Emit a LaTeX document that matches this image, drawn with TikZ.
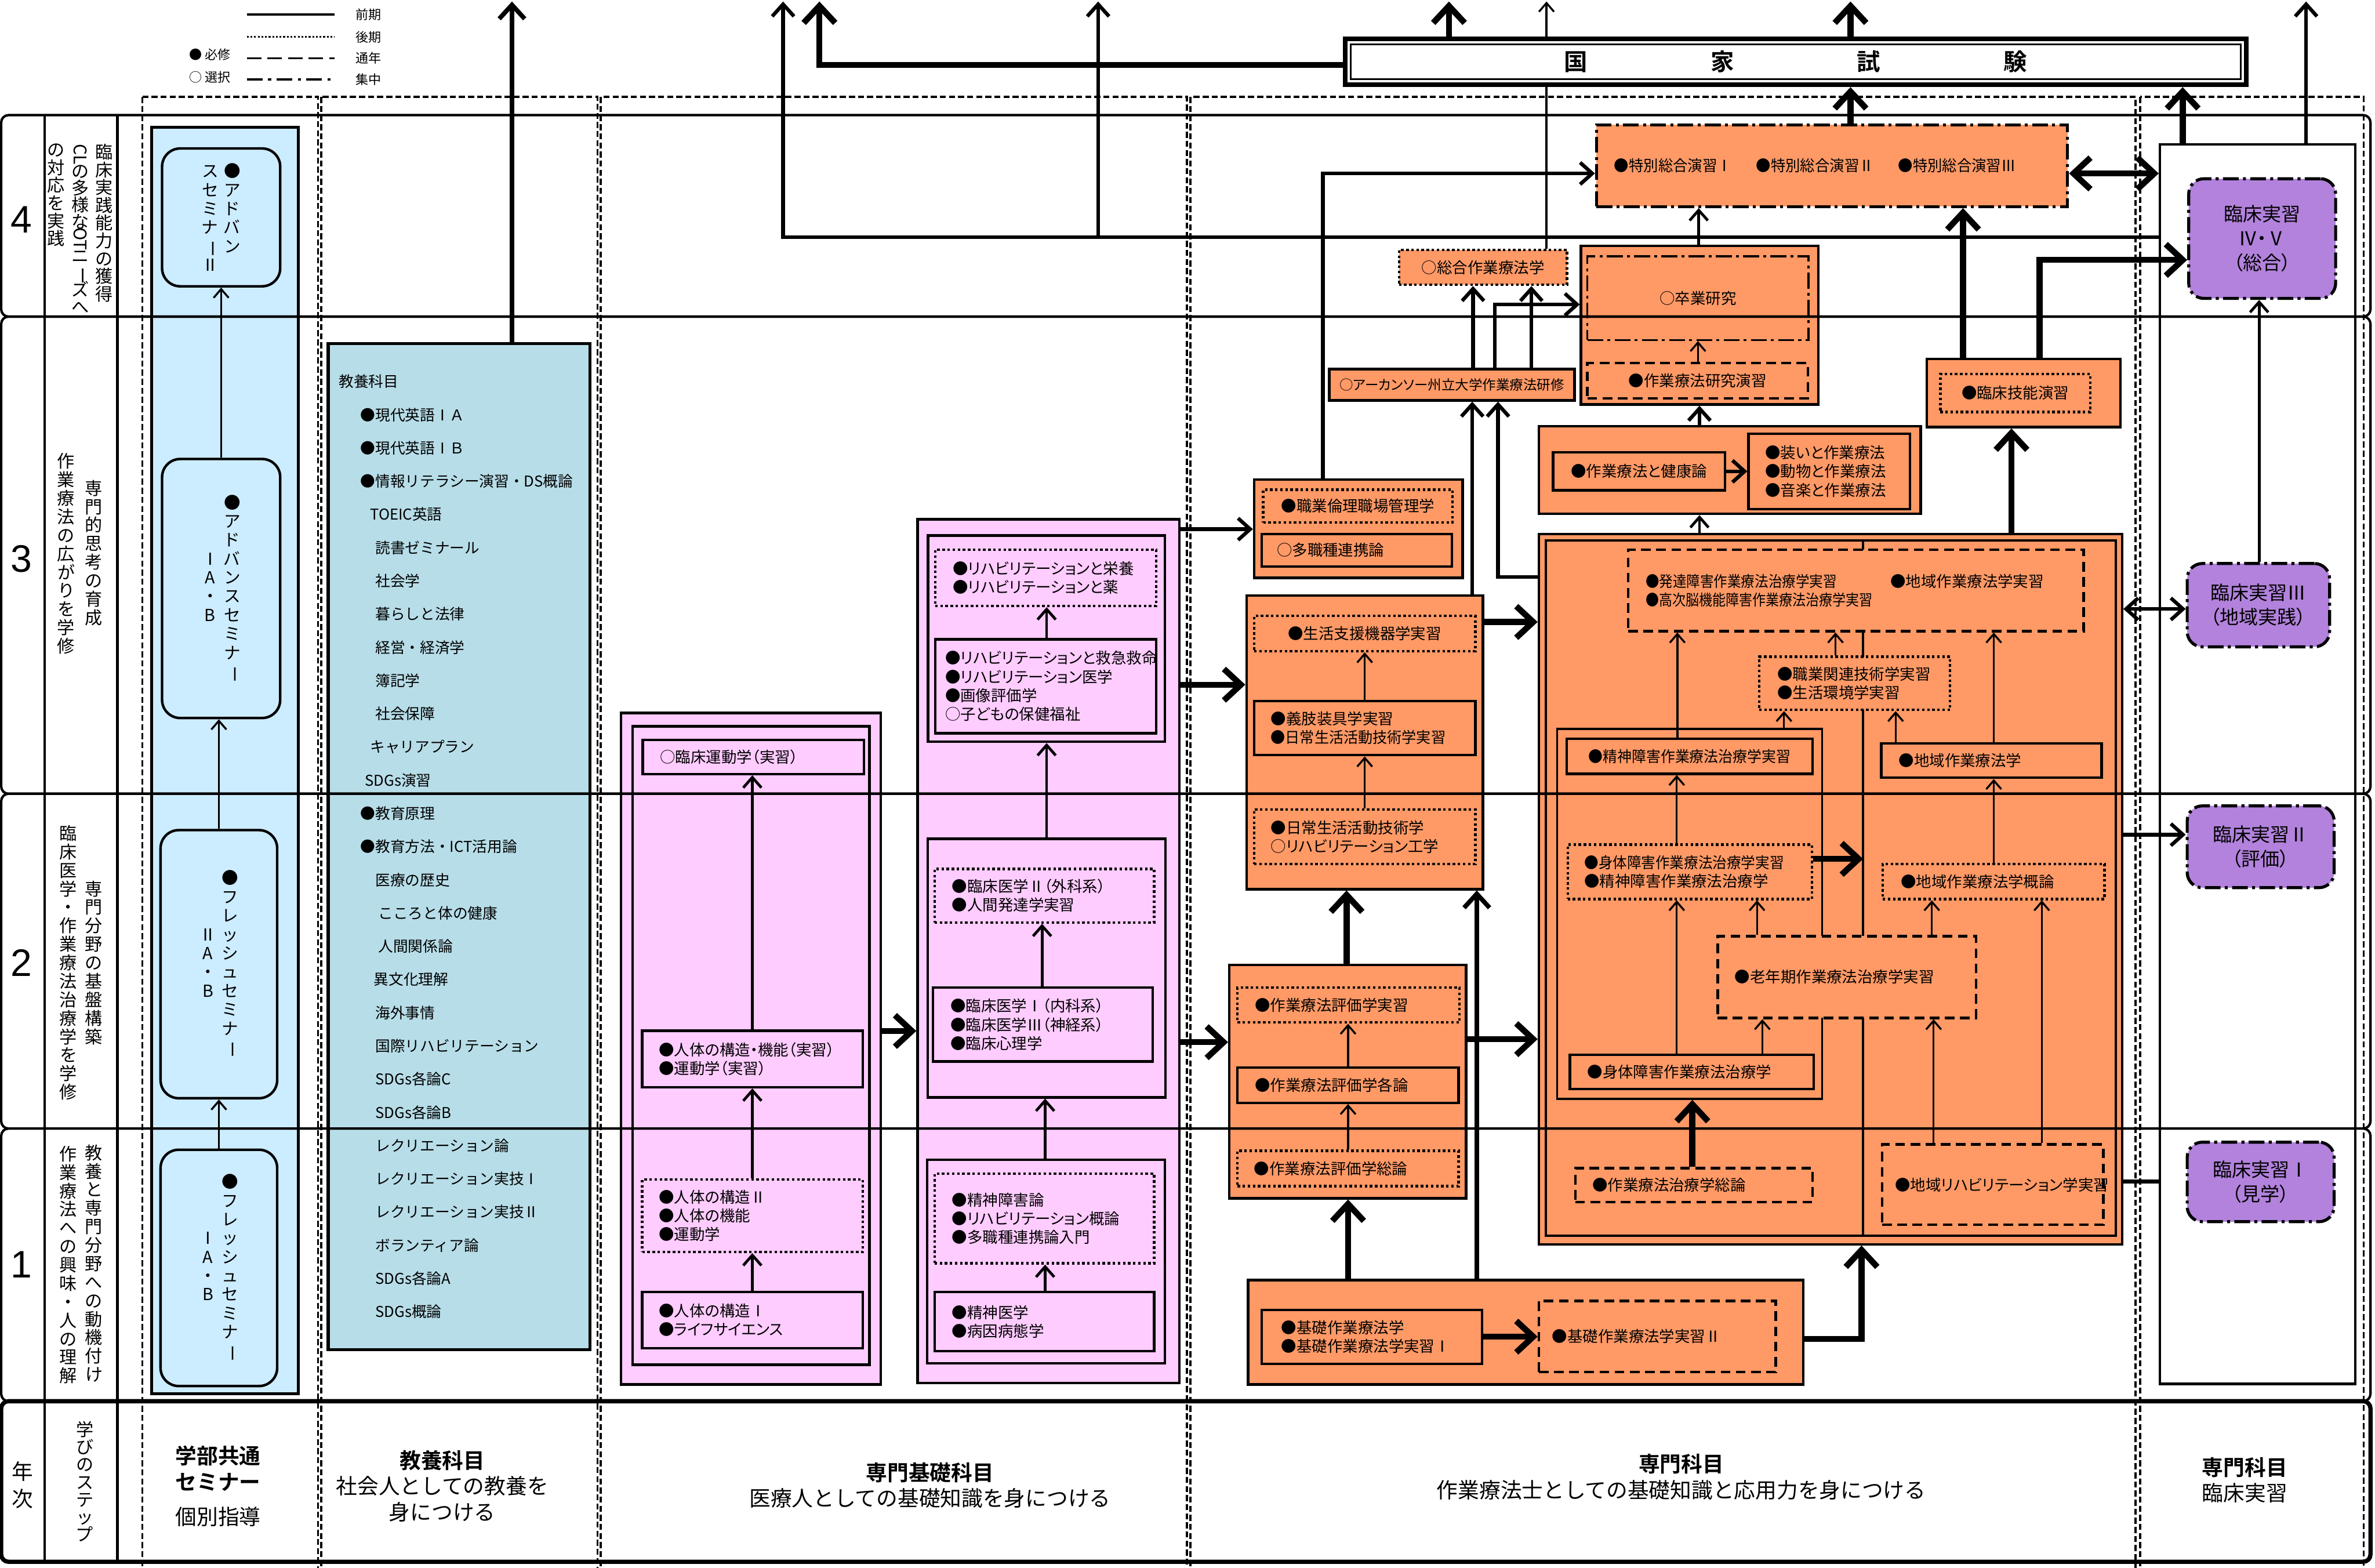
\documentclass[tikz,border=0pt]{standalone}
\usepackage{fontspec}
\setmainfont{Noto Sans CJK JP}[BoldFont={Noto Sans CJK JP Bold},RawFeature=+palt]
\newfontfamily\monoja{Noto Sans CJK JP}[BoldFont={Noto Sans CJK JP Bold}]
\newfontfamily\arialf{Liberation Sans}
\usetikzlibrary{positioning,arrows.meta}

\definecolor{orng}{RGB}{255,153,102}
\definecolor{kisopink}{RGB}{255,204,255}
\definecolor{semblue}{RGB}{204,236,255}
\definecolor{kyoteal}{RGB}{183,221,232}
\definecolor{jissvio}{RGB}{178,130,220}

\newcommand{\fsz}{\fontsize{7.2}{8.8}\selectfont}
\newcommand{\fsm}{\fontsize{6.4}{8}\selectfont}
\newcommand{\fleg}{\fontsize{6}{7}\selectfont}
\newcommand{\fvt}{\fontsize{8.2}{8.2}\selectfont}
\newcommand{\fsem}{\fontsize{7.8}{7.8}\selectfont}
\newcommand{\fbot}{\monoja\fontsize{10}{12.1}\selectfont}
\newcommand{\fprac}{\fontsize{9}{11.4}\selectfont}
\newcommand{\fkyo}{\monoja\fontsize{7}{15.6}\selectfont}

% box from corner (x1,y1) to corner (x2,y2), picture pixels
\def\pd{6}
\newcommand{\bx}[7][]{%
  \node[minimum width={(#5-#3)*0.25mm}, minimum height={(#6-#4)*0.25mm},
        text width={(#5-#3-2*\pd)*0.25mm}, inner xsep=0pt, inner ysep=0pt,
        align=left, #1] (#2) at ({(#3+#5)/2},{(#4+#6)/2}) {#7};}

% vertical (tategaki) stack, one character per line
\def\tateE{}
\def\tateM{\tateE}
\newcommand{\tate}[2][3.05mm]{\vtop{\baselineskip=#1\lineskiplimit=-20pt\lineskip=0pt\tateA#2\tateE}}
\def\tateA#1{\def\tateT{#1}\ifx\tateT\tateM\else\hbox to 1em{\hss#1\hss}\expandafter\tateA\fi}
\newcommand{\yoko}[1]{\rotatebox[origin=c]{-90}{#1}}
\newcommand{\chou}{\yoko{ー}}
\newcommand{\cnd}[2][0.89]{\scalebox{#1}[1]{#2}}

\tikzset{
  pad/.code={\def\pd{#1}},
  ln/.style={line width=0.32mm},
  lm/.style={line width=0.45mm},
  md/.style={line width=0.6mm},
  mt/.style={line width=0.75mm},
  tk/.style={line width=1mm},
  sbox/.style={draw, line width=0.42mm},
  dotbox/.style={draw, line width=0.42mm, dash pattern=on 0.42mm off 0.42mm},
  dshbox/.style={draw, line width=0.42mm, dash pattern=on 1.6mm off 0.9mm},
  ddbox/.style={draw, line width=0.5mm, dash pattern=on 2.6mm off 0.7mm on 0.5mm off 0.7mm},
  colfrm/.style={line width=0.35mm, dash pattern=on 1mm off 0.5mm},
  rowfrm/.style={line width=0.4mm, rounded corners=1.2mm},
  sem/.style={sbox, fill=semblue, rounded corners=3mm, align=center, font=\fsem},
  prac/.style={ddbox, fill=jissvio, rounded corners=2.5mm, align=center, font=\fprac},
  lbl/.style={font=\fvt}
}

\begin{document}
\begin{tikzpicture}[x=0.25mm, y=-0.25mm, font=\fsz,
    >={Straight Barb[length=0.8mm 2, width=1.2mm 4]}]
  \useasboundingbox (0,0) rectangle (1568,1035);

  % Column frames.
  \draw[colfrm] (94,64) rectangle (210,1045);
  \draw[colfrm] (212,64) rectangle (394.5,1045);
  \draw[colfrm] (396.5,64) rectangle (783.5,1045);
  \draw[colfrm] (786,64) rectangle (1410,1045);
  \draw[colfrm] (1413,64) rectangle (1560.5,1045);

  % Legend.
  \node[anchor=west, font=\fleg] (lgreq) at (120,36) {● 必修};
  \node[anchor=west, font=\fleg] (lgsel) at (120,51) {○ 選択};
  \coordinate (lg1s) at (163,9.6);  \coordinate (lg1e) at (221,9.6);
  \coordinate (lg2s) at (163,24.4); \coordinate (lg2e) at (221,24.4);
  \coordinate (lg3s) at (163,38.4); \coordinate (lg3e) at (221,38.4);
  \coordinate (lg4s) at (163,52.4); \coordinate (lg4e) at (221,52.4);
  \draw[ln] (lg1s) -- (lg1e);
  \draw[ln, dash pattern=on 0.3mm off 0.3mm] (lg2s) -- (lg2e);
  \draw[ln, dash pattern=on 2.4mm off 1mm] (lg3s) -- (lg3e);
  \draw[ln, dash pattern=on 2.6mm off 0.9mm on 0.5mm off 0.9mm] (lg4s) -- (lg4e);
  \node[font=\fleg, right=2.2mm of lg1e] (lgzen) {前期};
  \node[font=\fleg, right=2.2mm of lg2e] (lgkou) {後期};
  \node[font=\fleg, right=2.2mm of lg3e] (lgtsu) {通年};
  \node[font=\fleg, right=2.2mm of lg4e] (lgshu) {集中};

  % Year numbers and learning steps.
  \node[font=\arialf\fontsize{18}{18}\selectfont] (yr4) at (14,145) {4};
  \node[font=\arialf\fontsize{18}{18}\selectfont] (yr3) at (14,369) {3};
  \node[font=\arialf\fontsize{18}{18}\selectfont] (yr2) at (14,635.5) {2};
  \node[font=\arialf\fontsize{18}{18}\selectfont] (yr1) at (14,835) {1};
  \node[font=\fbot] (nenji) at (15,980.5) {\tate[4.5mm]{年次}};

  \node[lbl, anchor=north] (st4a) at (68.8,90) {\tate[2.93mm]{臨床実践能力の獲得}};
  \node[lbl, anchor=north] (st4b) at (53,90) {\tate[2.8mm]{{\yoko{CL}}の多様な{\yoko{OT}}ニ\chou ズへ}};
  \node[lbl, anchor=north] (st4c) at (36.8,90) {\tate[2.93mm]{の対応を実践}};
  \node[lbl] (st3a) at (62,365) {\tate{専門的思考の育成}};
  \node[lbl] (st3b) at (43.6,365.5) {\tate{作業療法の広がりを学修}};
  \node[lbl] (st2a) at (62,635.5) {\tate{専門分野の基盤構築}};
  \node[lbl] (st2b) at (45,635.5) {\tate{臨床医学・作業療法治療学を学修}};
  \node[lbl] (st1a) at (62,834) {\tate{教養と専門分野への動機付け}};
  \node[lbl] (st1b) at (45,835) {\tate{作業療法への興味・人の理解}};
  \node[lbl] (manabi) at (56,978) {\tate[2.9mm]{学びのステップ}};

  % Faculty seminar column.
  \bx[sbox, fill=semblue, line width=0.45mm]{semcol}{100}{84}{197}{920}{}
  \bx[sem]{adv2}{107}{98}{185}{189}{\tate[3.1mm]{スセミナ\chou Ⅱ}\kern0.9mm\tate[3.1mm]{●アドバン}}
  \bx[sem]{adv1}{107}{303}{185}{474}{\tate[3.1mm]{{}{}{}ⅠA・B}\kern0.9mm\tate[3.1mm]{●アドバンスセミナ\chou}}
  \bx[sem]{fr2}{106}{548}{183}{725}{\tate[3.1mm]{{}{}{}ⅡA・B}\kern0.9mm\tate[3.1mm]{●フレッシュセミナ\chou}}
  \bx[sem]{fr1}{106}{759}{183}{915}{\tate[3.1mm]{{}{}{}ⅠA・B}\kern0.9mm\tate[3.1mm]{●フレッシュセミナ\chou}}
  \draw[ln,->] (fr1.north) -- (fr2.south);
  \draw[ln,->] (fr2.north) -- (fr2.north |- adv1.south);
  \draw[ln,->] (adv1.north) -- (adv1.north |- adv2.south);

  % General education.
  \bx[sbox, fill=kyoteal, line width=0.5mm, pad=7, font=\fkyo]{kyoyo}{216.7}{226.8}{389.6}{891}{%
    教養科目\\
    \hspace*{1.45em}●現代英語ⅠＡ\\
    \hspace*{1.45em}●現代英語ⅠＢ\\
    \hspace*{1.45em}●情報リテラシー演習・DS概論\\
    \hspace*{2.1em}TOEIC英語\\
    \hspace*{2.45em}読書ゼミナール\\
    \hspace*{2.45em}社会学\\
    \hspace*{2.45em}暮らしと法律\\
    \hspace*{2.45em}経営・経済学\\
    \hspace*{2.45em}簿記学\\
    \hspace*{2.45em}社会保障\\
    \hspace*{2.1em}キャリアプラン\\
    \hspace*{1.75em}SDGs演習\\
    \hspace*{1.45em}●教育原理\\
    \hspace*{1.45em}●教育方法・ICT活用論\\
    \hspace*{2.45em}医療の歴史\\
    \hspace*{2.65em}こころと体の健康\\
    \hspace*{2.65em}人間関係論\\
    \hspace*{2.35em}異文化理解\\
    \hspace*{2.45em}海外事情\\
    \hspace*{2.45em}国際リハビリテーション\\
    \hspace*{2.45em}SDGs各論C\\
    \hspace*{2.45em}SDGs各論B\\
    \hspace*{2.45em}レクリエーション論\\
    \hspace*{2.45em}レクリエーション実技Ⅰ\\
    \hspace*{2.45em}レクリエーション実技Ⅱ\\
    \hspace*{2.45em}ボランティア論\\
    \hspace*{2.45em}SDGs各論A\\
    \hspace*{2.45em}SDGs概論}
  \coordinate (top338) at (338,1);
  \draw[mt,->] (kyoyo.north -| 338,0) -- (top338);

  % Basic specialised subjects: left block.
  \bx[sbox, fill=kisopink]{pinkA}{410}{470.7}{581.4}{914}{}
  \bx[sbox]{pinkAin}{417.6}{479.5}{574}{901}{}
  \bx[sbox, pad=11.4]{pa1}{424.4}{488.5}{570.4}{511}{○臨床運動学（実習）}
  \bx[sbox, pad=11]{pa2}{424}{680.5}{569.7}{717.7}{●人体の構造・機能（実習）\\●運動学（実習）}
  \bx[dotbox, pad=11]{pa3}{424}{778.7}{569.7}{826.4}{●人体の構造Ⅱ\\●人体の機能\\●運動学}
  \bx[sbox, pad=11]{pa4}{424}{853}{569.7}{890}{●人体の構造Ⅰ\\●ライフサイエンス}
  \draw[lm,->] (pa4.north -| 496.7,0) -- (pa3.south -| 496.7,0);
  \draw[lm,->] (pa3.north -| 496.7,0) -- (pa2.south -| 496.7,0);
  \draw[lm,->] (pa2.north -| 496.7,0) -- (pa1.south -| 496.7,0);

  % Basic specialised subjects: right block.
  \bx[sbox, fill=kisopink]{pinkB}{605.8}{342.8}{778.6}{913}{}
  \bx[sbox]{pbs1}{612.7}{353.5}{769}{489.7}{}
  \bx[sbox]{pbs2}{612.5}{553.8}{769.5}{724.4}{}
  \bx[sbox]{pbs3}{612}{765.6}{769}{900}{}
  \bx[dotbox, pad=11.6]{pb1}{617.4}{363}{763.4}{400}{●リハビリテーションと栄養\\●リハビリテーションと薬}
  \bx[sbox, pad=6.6]{pb2}{617.4}{422}{763.4}{484}{●リハビリテーションと救急救命\\●リハビリテーション医学\\●画像評価学\\○子どもの保健福祉}
  \bx[dotbox, pad=11.5]{pb3}{617}{573.6}{762}{609}{●臨床医学Ⅱ（外科系）\\●人間発達学実習}
  \bx[sbox, pad=11.5]{pb4}{616}{652}{761}{700.7}{●臨床医学Ⅰ（内科系）\\●臨床医学Ⅲ（神経系）\\●臨床心理学}
  \bx[dotbox, pad=11.5]{pb5}{617}{774.8}{762}{834}{●精神障害論\\●リハビリテーション概論\\●多職種連携論入門}
  \bx[sbox, pad=11.5]{pb6}{617}{853}{762}{892}{●精神医学\\●病因病態学}
  \draw[lm,->] (pb6.north -| 690,0) -- (pb5.south -| 690,0);
  \draw[lm,->] (pbs3.north -| 690,0) -- (pbs2.south -| 690,0);
  \draw[lm,->] (pb4.north -| 688,0) -- (pb3.south -| 688,0);
  \draw[lm,->] (pbs2.north -| 691,0) -- (pbs1.south -| 691,0);
  \draw[lm,->] (pb2.north -| 691,0) -- (pb1.south -| 691,0);
  \draw[tk,->] (pinkA.east |- 0,680.6) -- (pinkB.west |- 0,680.6);

  % Specialised subjects: left blocks.
  \bx[sbox, fill=orng]{rinri}{828}{316.5}{965.7}{381.5}{}
  \bx[dotbox, align=center]{rinri1}{834}{323.3}{959}{344.9}{●職業倫理職場管理学}
  \bx[sbox, pad=10]{rinri2}{833}{352.5}{958.5}{374}{○多職種連携論}
  \bx[sbox, fill=orng]{seikatsu}{823}{393.2}{979}{587}{}
  \bx[dotbox, align=center]{sk1}{828}{406.6}{974}{429.8}{●生活支援機器学実習}
  \bx[sbox, pad=11]{sk2}{828}{462.7}{974}{498.5}{●義肢装具学実習\\\cnd[0.95]{●日常生活活動技術学実習}}
  \bx[dotbox, pad=11]{sk3}{828}{534.4}{974}{570.5}{●日常生活活動技術学\\○リハビリテーション工学}
  \bx[sbox, fill=orng]{hyoka}{811.6}{637}{968}{791}{}
  \bx[dotbox, pad=11.5]{hy1}{817}{652}{963.6}{675}{●作業療法評価学実習}
  \bx[sbox, pad=11.5]{hy2}{817}{704.8}{963}{728}{●作業療法評価学各論}
  \bx[dotbox, pad=11]{hy3}{817}{759.7}{963}{783}{●作業療法評価学総論}
  \bx[sbox, fill=orng]{kiso}{824}{845}{1190.5}{914}{}
  \bx[sbox, pad=13]{ks1}{833}{864.8}{978.4}{900.4}{●基礎作業療法学\\●基礎作業療法学実習Ⅰ}
  \bx[dshbox, pad=8.7]{ks2}{1016}{858.8}{1172.3}{905.8}{●基礎作業療法学実習Ⅱ}
  \bx[sbox, fill=orng, font=\fsm, align=center, pad=3]{arkansas}{877.6}{243.6}{1039.5}{264.3}{○アーカンソー州立大学作業療法研修}

  % Specialised subjects: upper blocks.
  \bx[dotbox, fill=orng, align=center, pad=3]{sogo}{923.6}{165}{1034.6}{188}{○総合作業療法学}
  \coordinate (top1021) at (1021,1);
  \draw[ln,->] (sogo.north -| 1021,0) -- (top1021);
  \bx[sbox, fill=orng]{sotsu}{1043.8}{162.4}{1200.6}{267}{}
  \bx[ddbox, line width=0.32mm, align=center]{sotsuin}{1048}{169.2}{1194}{224.5}{○卒業研究}
  \bx[dshbox, align=center]{kenkyu}{1048}{239.7}{1193.6}{263}{●作業療法研究演習}
  \bx[sbox, fill=orng]{kenko}{1016}{281.3}{1268}{339.2}{}
  \bx[sbox, align=center, pad=3]{kk1}{1025.4}{298.7}{1138.9}{323.6}{●作業療法と健康論}
  \bx[sbox, pad=11]{kk2}{1154.4}{286.3}{1261}{336}{●装いと作業療法\\●動物と作業療法\\●音楽と作業療法}
  \bx[sbox, fill=orng]{gino}{1272}{237}{1400}{282}{}
  \bx[dotbox, align=center, pad=3]{gino1}{1281}{247}{1380}{272}{●臨床技能演習}
  \bx[ddbox, fill=orng, pad=11.7]{tokubetsu}{1054}{82.4}{1365}{136.4}{\cnd[0.96]{●特別総合演習Ⅰ}\hspace{4mm}\cnd[0.96]{●特別総合演習Ⅱ}\hspace{4mm}\cnd[0.96]{●特別総合演習Ⅲ}}
  \bx[draw, line width=0.75mm, fill=white, align=center, font=\bfseries\fontsize{11}{11}\selectfont]{kokka}{888}{25.5}{1483}{56}{国\hspace{20.3mm}家\hspace{20.3mm}試\hspace{20.3mm}験}
  \draw[line width=0.25mm] ([shift={(1.3mm,-1.3mm)}]kokka.north west) rectangle ([shift={(-1.3mm,1.3mm)}]kokka.south east);

  % Specialised subjects: main block.
  \bx[sbox, fill=orng]{container}{1016}{352.6}{1401}{821.4}{}
  \bx[sbox]{containerin}{1020.5}{356.7}{1396.8}{815.7}{}
  \draw[ln] (containerin.north -| 1230,0) -- (containerin.south -| 1230,0);
  \bx[sbox, line width=0.35mm]{subfrm}{1028}{481.3}{1203}{725.4}{}
  \bx[dshbox, fill=orng, pad=11.5]{c1}{1075}{363}{1375.6}{416.7}{\makebox[40.4mm][l]{\cnd{●発達障害作業療法治療学実習}}●地域作業療法学実習\\\cnd[0.87]{●高次脳機能障害作業療法治療学実習}}
  \bx[dotbox, fill=orng, pad=12]{c2}{1161.4}{433.6}{1287.5}{468.6}{●職業関連技術学実習\\●生活環境学実習}
  \bx[sbox, fill=orng, align=center, pad=3]{c3}{1034.3}{487.6}{1196.7}{510.8}{\cnd[0.94]{●精神障害作業療法治療学実習}}
  \bx[sbox, fill=orng, pad=11.6]{c4}{1242}{490.8}{1387.5}{513.4}{●地域作業療法学}
  \bx[dotbox, fill=orng, pad=11]{c5}{1035}{557.6}{1196.2}{593.5}{\cnd[0.93]{●身体障害作業療法治療学実習}\\●精神障害作業療法治療学}
  \bx[dotbox, fill=orng, pad=12]{c6}{1243}{570.3}{1389.4}{593.5}{●地域作業療法学概論}
  \bx[dshbox, fill=orng, pad=11.3]{c7}{1134}{618}{1304.5}{672}{●老年期作業療法治療学実習}
  \bx[sbox, fill=orng, pad=11.5]{c8}{1036.5}{696.4}{1197.4}{719}{●身体障害作業療法治療学}
  \bx[dshbox, fill=orng, pad=11.3]{c9}{1040}{771.2}{1196.7}{793.5}{●作業療法治療学総論}
  \bx[dshbox, fill=orng, pad=8.5]{c10}{1242.6}{755.5}{1388.6}{808.6}{●地域リハビリテーション学実習}
  \coordinate (ctr567) at (1230,567);
  \draw[ln,->] (c3.north -| 1107.4,0) -- (c1.south -| 1107.4,0);
  \draw[ln,->] (subfrm.north -| 1177.8,0) -- (c2.south -| 1177.8,0);
  \draw[ln,->] (c2.north -| 1211.8,0) -- (c1.south -| 1211.8,0);
  \draw[ln,->] (c4.north -| 1316.3,0) -- (c1.south -| 1316.3,0);
  \draw[ln,->] (c4.north -| 1251.5,0) -- (c2.south -| 1251.5,0);
  \draw[ln,->] (c5.north -| 1107,0) -- (c3.south -| 1107,0);
  \draw[tk,->] (c5.east |- ctr567) -- (ctr567);
  \draw[ln,->] (c6.north -| 1316.3,0) -- (c4.south -| 1316.3,0);
  \draw[ln,->] (c8.north -| 1107,0) -- (c5.south -| 1107,0);
  \draw[ln,->] (c7.north -| 1160,0) -- (c5.south -| 1160,0);
  \draw[ln,->] (c7.north -| 1275.4,0) -- (c6.south -| 1275.4,0);
  \draw[ln,->] (c8.north -| 1163.5,0) -- (c7.south -| 1163.5,0);
  \draw[tk,->] (c9.north -| 1117.3,0) -- (subfrm.south -| 1117.3,0);
  \draw[ln,->] (c10.north -| 1276.6,0) -- (c7.south -| 1276.6,0);
  \draw[ln,->] (c10.north -| 1348,0) -- (c6.south -| 1348,0);

  % Clinical practice column.
  \bx[sbox, fill=white, line width=0.4mm]{panel}{1426}{95.4}{1555}{913.6}{}
  \bx[prac]{r45}{1445}{118}{1542}{197}{臨床実習\\Ⅳ・Ⅴ\\（総合）}
  \bx[prac]{r3}{1444}{372}{1538}{427}{臨床実習Ⅲ\\（地域実践）}
  \bx[prac]{r2}{1444}{532}{1541}{586}{臨床実習Ⅱ\\（評価）}
  \bx[prac]{r1}{1444}{754}{1541}{806.5}{臨床実習Ⅰ\\（見学）}
  \draw[lm,->] (r3.north -| 1491.5,0) -- (r45.south -| 1491.5,0);

  % Flow between blocks.
  \draw[md,->] (pinkB.east |- 0,349.3) -- (rinri.west |- 0,349.3);
  \draw[tk,->] (pinkB.east |- 0,452) -- (seikatsu.west |- 0,452);
  \draw[tk,->] (pinkB.east |- 0,688) -- (hyoka.west |- 0,688);
  \draw[ln,->] (sk3.north -| 901,0) -- (sk2.south -| 901,0);
  \draw[ln,->] (sk2.north -| 901,0) -- (sk1.south -| 901,0);
  \draw[ln,->] (hy3.north -| 890,0) -- (hy2.south -| 890,0);
  \draw[ln,->] (hy2.north -| 890,0) -- (hy1.south -| 890,0);
  \draw[tk,->] (hyoka.north -| 889,0) -- (seikatsu.south -| 889,0);
  \draw[tk,->] (kiso.north -| 890,0) -- (hyoka.south -| 890,0);
  \draw[mt,->] (kiso.north -| 975,0) -- (seikatsu.south -| 975,0);
  \draw[tk,->] (ks1.east |- 0,882.4) -- (ks2.west |- 0,882.4);
  \draw[tk,->] (kiso.east |- 0,884) -| (container.south -| 1229,0);
  \draw[tk,->] (seikatsu.east |- 0,410.6) -- (container.west |- 0,410.6);
  \draw[tk,->] (hyoka.east |- 0,686) -- (container.west |- 0,686);
  \draw[md,->] (seikatsu.north -| 972,0) -- (arkansas.south -| 972,0);
  \draw[md,->] (container.west |- 0,381) -| (arkansas.south -| 989,0);
  \draw[md,->] (arkansas.north -| 972.5,0) -- (sogo.south -| 972.5,0);
  \draw[md,->] (arkansas.north -| 1011,0) -- (sogo.south -| 1011,0);
  \draw[md,->] (arkansas.north -| 987,0) |- (sotsu.west |- 0,201);
  \draw[md,->] (rinri.north -| 873.4,0) |- (tokubetsu.west |- 0,114.5);
  \draw[ln,->] (kenkyu.north -| 1121,0) -- (sotsuin.south -| 1121,0);
  \draw[lm,->] (sotsu.north -| 1121.5,0) -- (tokubetsu.south -| 1121.5,0);
  \draw[md,->] (kenko.north -| 1122,0) -- (sotsu.south -| 1122,0);
  \draw[lm,->] (container.north -| 1122,0) -- (kenko.south -| 1122,0);
  \draw[md,->] (kk1.east) -- (kk1.east -| kk2.west);
  \draw[tk,->] (container.north -| 1328,0) -- (gino.south -| 1328,0);
  \draw[tk,->] (gino.north -| 1296,0) -- (tokubetsu.south -| 1296,0);
  \draw[tk,->] (gino.north -| 1346.5,0) |- (r45.west |- 0,171.6);
  \draw[tk,->] (tokubetsu.north -| 1221.7,0) -- (kokka.south -| 1221.7,0);
  \draw[tk,<->] (tokubetsu.east |- 0,114.5) -- (panel.west |- 0,114.5);
  \draw[md,<->] (container.east |- 0,402) -- (r3.west |- 0,402);
  \draw[md,->] (container.east |- 0,551) -- (r2.west |- 0,551);
  \draw[md] (container.east |- 0,780) -- (panel.west |- 0,780);

  % To the top edge.
  \coordinate (top517) at (517,1);
  \coordinate (top541) at (541,1);
  \coordinate (top725) at (725,1);
  \coordinate (top957) at (956.6,1);
  \coordinate (top1222) at (1221.7,1);
  \coordinate (top1523) at (1522.5,1);
  \coordinate (br725) at (725,156.5);
  \draw[tk,->] (kokka.west |- 0,42.8) -| (top541);
  \draw[md,->] (panel.west |- 0,156.5) -| (top517);
  \draw[md,->] (br725) -- (top725);
  \draw[tk,->] (kokka.north -| 956.6,0) -- (top957);
  \draw[tk,->] (kokka.north -| 1221.7,0) -- (top1222);
  \draw[tk,->] (panel.north -| 1441,0) -- (kokka.south -| 1441,0);
  \draw[md,->] (panel.north -| 1522.5,0) -- (top1523);

  % Bottom captions.
  \node[font=\fbot, align=center] (capsem) at (144,981) {\textbf{学部共通}\\\textbf{セミナー}\\[1.5mm]個別指導};
  \node[font=\fbot, align=center] (capkyo) at (292,981) {\textbf{教養科目}\\社会人としての教養を\\身につける};
  \node[font=\fbot, align=center] (capkiso) at (614,980.5) {\textbf{専門基礎科目}\\医療人としての基礎知識を身につける};
  \node[font=\fbot, align=center] (capsen) at (1110,975) {\textbf{専門科目}\\作業療法士としての基礎知識と応用力を身につける};
  \node[font=\fbot, align=center] (caprin) at (1482,977) {\textbf{専門科目}\\臨床実習};

  % Year rows on top.
  \draw[rowfrm] (0.8,76) rectangle (1565,209);
  \draw[rowfrm] (0.8,209) rectangle (1565,524);
  \draw[rowfrm] (0.8,524) rectangle (1565,745);
  \draw[rowfrm] (0.8,745) rectangle (1565,925);
  \draw[rowfrm, line width=0.7mm] (0.8,925) rectangle (1565,1031);
  \draw[line width=0.45mm] (29.5,76) -- (29.5,1031);
  \draw[line width=0.45mm] (77.5,76) -- (77.5,1031);
\end{tikzpicture}
\end{document}
